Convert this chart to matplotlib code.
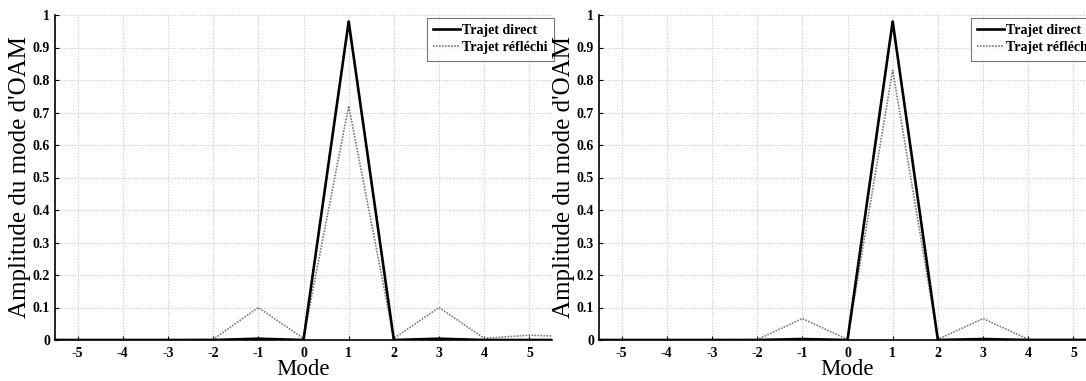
import matplotlib
matplotlib.use("Agg")
import matplotlib.pyplot as plt

modes = [-6, -5, -4, -3, -2, -1, 0, 1, 2, 3, 4, 5, 6]
direct_left = [0, 0, 0, 0, 0, 0.004, 0, 0.98, 0, 0.004, 0, 0, 0]
reflected_left = [0, 0, 0, 0, 0.002, 0.10, 0.005, 0.72, 0.005, 0.10, 0.005, 0.015, 0.01]
direct_right = [0, 0, 0, 0, 0, 0.003, 0, 0.98, 0, 0.003, 0, 0, 0]
reflected_right = [0, 0, 0, 0, 0.001, 0.066, 0.002, 0.83, 0.002, 0.066, 0.002, 0.002, 0.002]

xticks = [-5, -4, -3, -2, -1, 0, 1, 2, 3, 4, 5]
yticks = [0, 0.1, 0.2, 0.3, 0.4, 0.5, 0.6, 0.7, 0.8, 0.9, 1]
ytick_labels = ["0", "0.1", "0.2", "0.3", "0.4", "0.5", "0.6", "0.7", "0.8", "0.9", "1"]
legend_labels = ["Trajet direct", "Trajet réfléchi"]
xlabel = "Mode"
ylabel = "Amplitude du mode d'OAM"

W, H = 1086, 381
fig = plt.figure(figsize=(W / 100, H / 100), dpi=100)
serif = ["Liberation Serif", "DejaVu Serif"]

def make_axes(x0, x1, direct, reflected):
    y0, y1 = 340, 15
    ax = fig.add_axes([x0 / W, 1 - y0 / H, (x1 - x0) / W, (y0 - y1) / H])
    ax.plot(modes, direct, color="black", lw=1.9, label=legend_labels[0], zorder=3)
    ax.plot(modes, reflected, color="#7a7a7a", lw=1.2, ls=(0, (1, 0.8)), label=legend_labels[1], zorder=2)
    ax.set_xlim(-5.5, 5.5)
    ax.set_ylim(0, 1)
    ax.set_xticks(xticks)
    ax.set_xticklabels([str(t) for t in xticks], fontfamily=serif, fontweight="bold", fontsize=10)
    ax.set_yticks(yticks)
    ax.set_yticklabels(ytick_labels, fontfamily=serif, fontweight="bold", fontsize=10)
    ax.grid(True, color="#c8c8c8", ls=(0, (1, 1.5)), lw=0.8)
    for s in ["top", "right"]:
        ax.spines[s].set_visible(False)
    for s in ["left", "bottom"]:
        ax.spines[s].set_linewidth(1.2)
    ax.tick_params(direction="in", length=3, width=0.8)
    ax.tick_params(axis="y", pad=3.5)
    ax.tick_params(axis="x", pad=5)
    ax.set_xlabel(xlabel, fontfamily=serif, fontsize=16.5, labelpad=-1)
    ax.set_ylabel(ylabel, fontfamily=serif, fontsize=18, labelpad=1.5)
    leg = ax.legend(loc="upper left", bbox_to_anchor=(372 / 497, 0.991),
                    prop={"family": serif, "weight": "bold", "size": 10},
                    frameon=True, fancybox=False, edgecolor="#555555",
                    handlelength=1.9, handletextpad=0.2, borderpad=0.45,
                    labelspacing=0.3, borderaxespad=0)
    leg.get_frame().set_linewidth(0.8)
    return ax

make_axes(55, 552, direct_left, reflected_left)
make_axes(599, 1096, direct_right, reflected_right)

fig.savefig("out.png", dpi=100)
